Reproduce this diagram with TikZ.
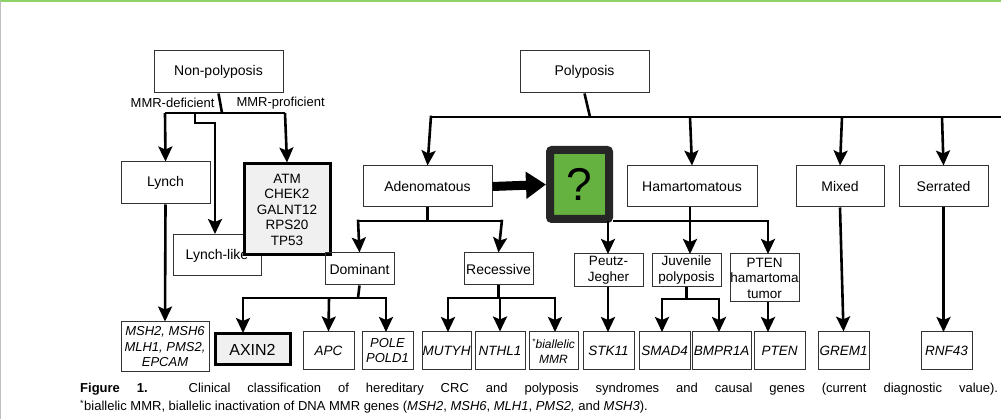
\documentclass[tikz,border=0pt]{standalone}
\usepackage{fontspec}
\setmainfont{Liberation Sans}
\usetikzlibrary{arrows.meta}
\begin{document}
\begin{tikzpicture}[x=1pt,y=-1pt,
 box/.style={draw=black!80,line width=1pt,inner sep=0pt,align=center,font=\fontsize{14}{15}\selectfont},
 gene/.style={box,font=\fontsize{13.5}{14}\selectfont\itshape},
 thick box/.style={draw=black,line width=3pt,fill=black!6,inner sep=0pt,align=center},
 con/.style={line width=2.6pt,-{Stealth[length=15pt,width=14pt,inset=3pt]}},
 ln/.style={line width=2.6pt}]
\useasboundingbox (0,0) rectangle (1001,419);
\fill[white] (0,0) rectangle (1001,419);
\draw[green!50!lime!70!black!60,line width=2pt] (0,1) -- (1001,1);
\draw[black!25,line width=1pt] (0.5,1) -- (0.5,419);
\newcommand\bx[7][box]{\node[#1,minimum width=#5-#3,minimum height=#6-#4] (#2) at ({(#3+#5)/2},{(#4+#6)/2}) {#7};}
\bx{np}{154}{51}{283}{93}{Non-polyposis}
\bx{lynch}{121}{162}{210}{204}{Lynch}
\bx{ll}{173}{235}{261}{276}{Lynch-like}
\bx[thick box,font=\fontsize{13.5}{15.5}\selectfont]{genes}{244}{164}{330}{255}{ATM\\CHEK2\\GALNT12\\RPS20\\TP53}
\bx[gene,font=\fontsize{13}{15.5}\selectfont\itshape]{msh}{121}{322}{209}{372}{MSH2, MSH6\\MLH1, PMS2,\\EPCAM}
\bx{poly}{520}{51}{649}{93}{Polyposis}
\bx{aden}{363}{166}{492}{207}{Adenomatous}
\bx{dom}{325}{253}{394}{285}{Dominant}
\bx{rec}{464}{253}{533}{285}{Recessive}
\bx[thick box,font=\fontsize{16}{17}\selectfont]{axin}{215}{334}{290}{365}{AXIN2}
\bx[gene]{apc}{303}{332}{354}{370}{APC}
\bx[gene,font=\fontsize{13}{15}\selectfont\itshape]{pole}{362}{332}{413}{370}{POLE\\POLD1}
\bx[gene]{mutyh}{422}{332}{471}{370}{MUTYH}
\bx[gene]{nthl}{475}{332}{525}{370}{NTHL1}
\bx[gene,font=\fontsize{12}{14.5}\selectfont\itshape]{bmmr}{529}{332}{578}{370}{\textsuperscript{*}biallelic\\MMR}
\bx[gene]{stk}{583}{332}{634}{370}{STK11}
\bx[gene]{smad}{639}{332}{690}{370}{SMAD4}
\bx[gene]{bmpr}{692}{332}{751}{370}{BMPR1A}
\bx[gene]{pten}{754}{332}{805}{370}{PTEN}
\bx[gene]{grem}{818}{332}{869}{370}{GREM1}
\bx[gene]{rnf}{921}{332}{972}{370}{RNF43}
\bx{ham}{627}{166}{757}{207}{Hamartomatous}
\bx{mixed}{796}{166}{884}{207}{Mixed}
\bx{serr}{899}{166}{988}{207}{Serrated}
\bx[box,font=\fontsize{13.5}{16}\selectfont]{peutz}{574}{254}{643}{287}{Peutz-\\Jegher}
\bx[box,font=\fontsize{13.5}{16}\selectfont]{juv}{652}{254}{721}{287}{Juvenile\\polyposis}
\bx[box,font=\fontsize{13.5}{15.5}\selectfont]{phts}{730}{254}{799}{302}{PTEN\\hamartoma\\tumor}
\node[draw=black!85,line width=8pt,fill=green!55!lime!60!black!75,rounded corners=2pt,minimum width=59pt,minimum height=69pt,inner sep=0pt,font=\fontsize{46}{46}\selectfont] (q) at (579.5,184.5) {?};
\node[font=\fontsize{13}{13}\selectfont,anchor=east] (lmd) at (218,103) {MMR-deficient};
\node[font=\fontsize{13}{13}\selectfont,anchor=west] (lmp) at (233,103) {MMR-proficient};
\coordinate (j1) at (222,113);
\draw[ln] (np.south) -- (j1);
\draw[ln] (165,113) -- (285,113);
\draw[con] (165,113) -- (lynch.north);
\draw[con] (285,113) -- (genes.north);
\draw[con] (195,113) -- (195,123) -- (215,123) -- (215,234);
\draw[con] (lynch.south) -- (msh.north);
\draw[ln] (poly.south) -- (590,117);
\draw[ln] (431,117) -- (1001,117);
\draw[con] (431,115.7) -- (aden.north);
\draw[con] (690,117) -- (ham.north);
\draw[con] (842,117) -- (mixed.north);
\draw[con] (942,117) -- (serr.north);
\draw[-{Triangle[length=20pt,width=26pt]},line width=9pt] (aden.east) -- (q.west);
\draw[ln] (aden.south) -- (427.5,221);
\draw[ln] (358,221) -- (502,221);
\draw[con] (358,219.7) -- (dom.north);
\draw[con] (502,219.7) -- (rec.north);
\draw[ln] (dom.south) -- (358,298);
\draw[ln] (243,298) -- (386,298);
\draw[con] (243,296.7) -- (243,333);
\draw[con] (329,298) -- (apc.north);
\draw[con] (386,296.7) -- (386,332);
\draw[ln] (rec.south) -- (498.5,298);
\draw[ln] (448,298) -- (555,298);
\draw[con] (448,296.7) -- (448,332);
\draw[con] (500,298) -- (nthl.north);
\draw[con] (555,296.7) -- (555,332);
\draw[ln] (613,221) -- (768,221);
\draw[con] (608,221) -- (608,254);
\draw[con] (690,207) -- (690,254);
\draw[con] (768,219.7) -- (768,254);
\draw[con] (608,287) -- (608,332);
\draw[ln] (686.5,287) -- (686.5,299);
\draw[ln] (662,299) -- (719,299);
\draw[con] (662,297.7) -- (662,332);
\draw[con] (719,297.7) -- (719,332);
\draw[con] (768,302) -- (768,332);
\draw[con] (mixed.south) -- (grem.north);
\draw[con] (943.5,207) -- (943.5,332);
\node[anchor=west,inner sep=0pt,font=\fontsize{13}{15}\selectfont] (cap1) at (80,389) {\makebox[918pt][s]{\textbf{Figure 1.}\hspace{-4pt} Clinical classification of hereditary CRC and polyposis syndromes and causal genes (current diagnostic value).}};
\node[anchor=west,inner sep=0pt,font=\fontsize{13}{15}\selectfont] (cap2) at (80,407) {\textsuperscript{*}biallelic MMR, biallelic inactivation of DNA MMR genes (\textit{MSH2}, \textit{MSH6}, \textit{MLH1}, \textit{PMS2,} and \textit{MSH3}).};
\end{tikzpicture}
\end{document}
